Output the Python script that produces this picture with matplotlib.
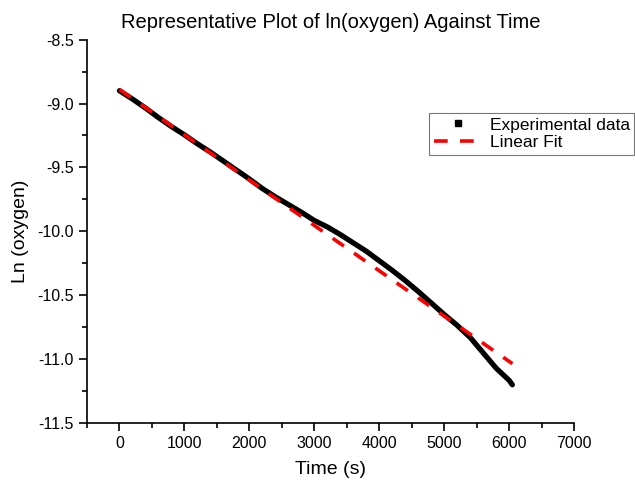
import numpy as np
import matplotlib
matplotlib.use('Agg')
import matplotlib.pyplot as plt
from matplotlib.lines import Line2D
from matplotlib.ticker import MultipleLocator

plt.rcParams['font.family'] = ['Liberation Sans', 'DejaVu Sans']

# experimental ln(oxygen) readings against time (s)
time_s = [0, 200, 400, 600, 800, 1000, 1200, 1400, 1600, 1800, 2000,
          2200, 2400, 2600, 2800, 3000, 3200, 3400, 3600, 3800, 4000,
          4200, 4400, 4600, 4800, 5000, 5200, 5400, 5600, 5800, 6000, 6050]
ln_oxygen = [-8.900, -8.965, -9.035, -9.110, -9.180, -9.245, -9.315, -9.380,
             -9.450, -9.520, -9.590, -9.665, -9.730, -9.790, -9.850, -9.915,
             -9.965, -10.025, -10.090, -10.155, -10.230, -10.305, -10.385,
             -10.470, -10.560, -10.650, -10.735, -10.830, -10.950, -11.070,
             -11.165, -11.200]

# linear fit end points
fit_time = [0, 6050]
fit_ln = [-8.89, -11.035]

fig = plt.figure(figsize=(6.35, 4.83), dpi=100)
ax = fig.add_axes([0.137, 0.124, 0.767, 0.794])

ax.plot(time_s, ln_oxygen, color='black', lw=3.8,
        solid_capstyle='round', solid_joinstyle='round', zorder=2)
ax.plot(fit_time, fit_ln, color='red', lw=2.6, dashes=(3.8, 3.4), zorder=3)

ax.set_xlim(-500, 7000)
ax.set_ylim(-11.5, -8.5)
ax.xaxis.set_major_locator(MultipleLocator(1000))
ax.xaxis.set_minor_locator(MultipleLocator(500))
ax.yaxis.set_major_locator(MultipleLocator(0.5))
ax.yaxis.set_minor_locator(MultipleLocator(0.25))
ax.yaxis.set_major_formatter(matplotlib.ticker.FormatStrFormatter('%.1f'))

for side in ['top', 'right']:
    ax.spines[side].set_visible(False)
for side in ['left', 'bottom']:
    ax.spines[side].set_linewidth(1.2)
ax.tick_params(which='major', direction='out', length=6, width=1.2, labelsize=11.5)
ax.tick_params(which='minor', direction='out', length=3.5, width=1.2)

ax.set_xlabel('Time (s)', fontsize=14, labelpad=7)
ax.set_ylabel('Ln (oxygen)', fontsize=14, labelpad=6)
ax.set_title('Representative Plot of ln(oxygen) Against Time', fontsize=14.5, pad=8)

# legend runs off the right edge in the original; nudged so the text still fits
handles = [Line2D([], [], color='black', ls='none', marker='s', ms=4),
           Line2D([], [], color='red', lw=2.6, dashes=(3.8, 3.4))]
leg = ax.legend(handles, ['Experimental data', 'Linear Fit'], loc='upper left',
                bbox_to_anchor=(0.676, 0.766), bbox_transform=fig.transFigure,
                fontsize=12.5, fancybox=False, edgecolor='#777777', framealpha=1,
                borderpad=0.25, labelspacing=0.15, handlelength=2.8,
                handletextpad=0.45, borderaxespad=0)
leg.get_frame().set_linewidth(0.8)

fig.savefig('out.png', dpi=100)
